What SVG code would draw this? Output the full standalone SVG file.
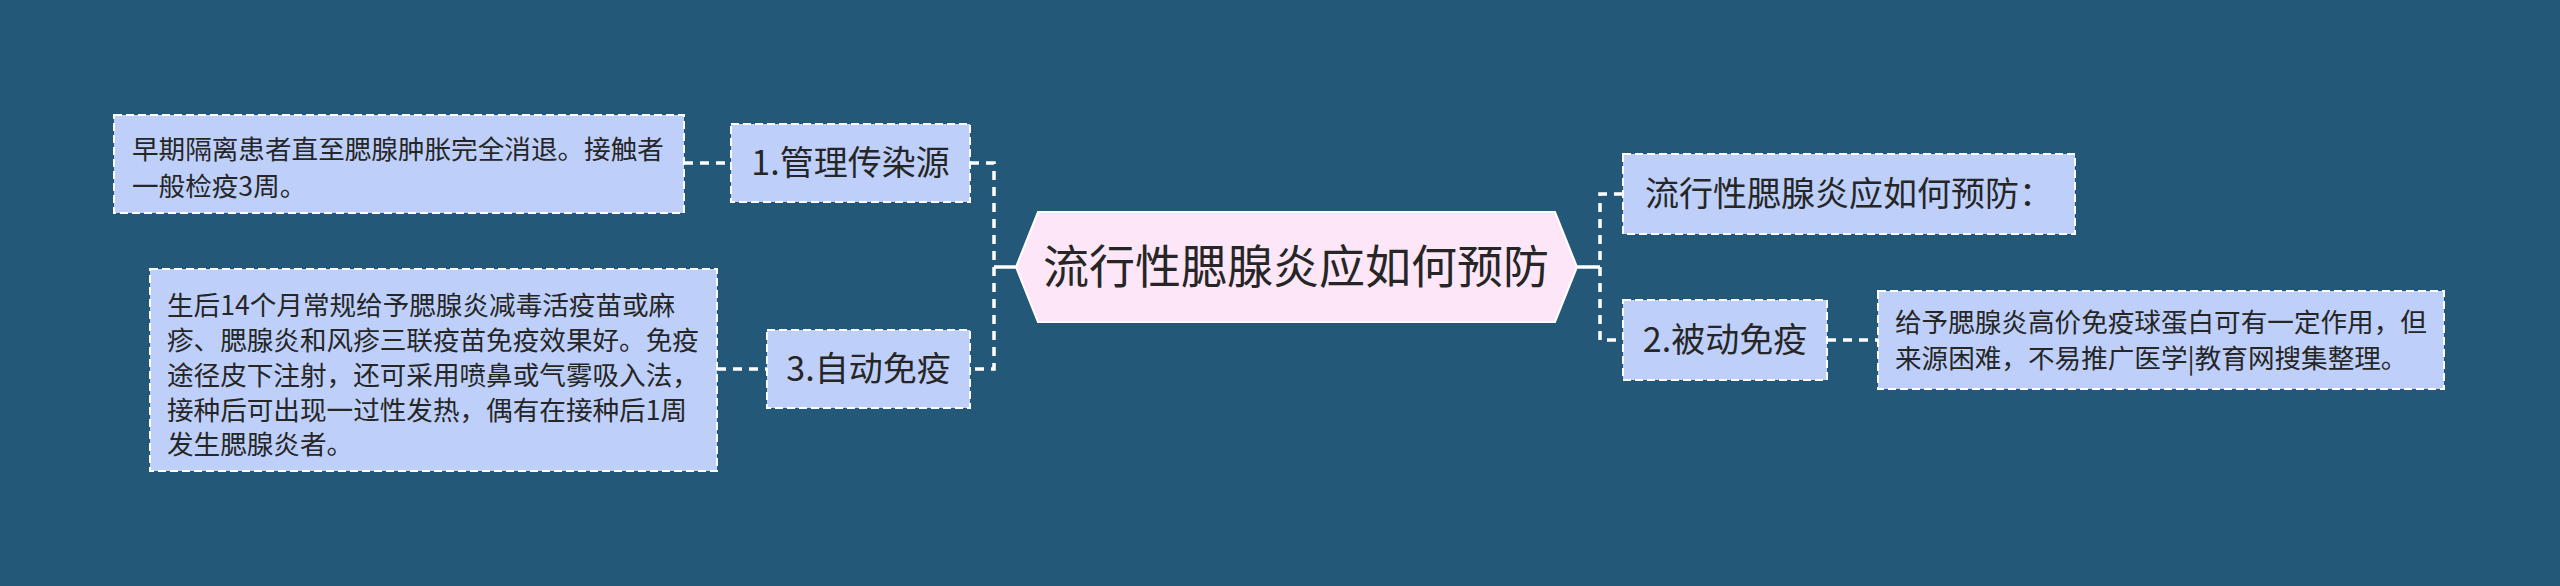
<svg xmlns="http://www.w3.org/2000/svg" width="2560" height="586" viewBox="0 0 2560 586">
<style>
.bg{fill:#235879}
.box{fill:#bed0fa;stroke:#ffffff;stroke-width:2;stroke-dasharray:8 4}
.t{font-family:"Noto Sans CJK SC","Noto Sans",sans-serif;fill:#262626}
.leaf{font-size:26.6px}
.node{font-size:34px;text-anchor:middle}
.center{font-size:46px;text-anchor:middle}
.dash{fill:none;stroke:#ffffff;stroke-width:3.5;stroke-dasharray:9 7}
.solid{fill:none;stroke:#ffffff;stroke-width:3.5}
</style>
<rect class="bg" x="0" y="0" width="2560" height="586"/>
<g id="connectors">
<path class="dash" d="M684 163 H731"/>
<path class="dash" d="M970 163 H994 V369 H970"/>
<path class="dash" d="M717 369 H767"/>
<path class="solid" d="M994 267 H1017"/>
<path class="solid" d="M1577 267 H1600"/>
<path class="dash" d="M1623 194 H1600 V340 H1623"/>
<path class="dash" d="M1827 340 H1878"/>
</g>
<g id="center">
<polygon points="1016,267 1038,212 1555,212 1577,267 1555,322 1038,322" fill="#fde6f7" stroke="#ffffff" stroke-width="2"/>
<text class="t center" x="1296" y="283">流行性腮腺炎应如何预防</text>
</g>
<g id="n1">
<rect class="box" x="731" y="124" width="239" height="78"/>
<text class="t node" x="850.5" y="175">1.管理传染源</text>
</g>
<g id="leaf1">
<rect class="box" x="114" y="115" width="570" height="98"/>
<text class="t leaf" x="132" y="159">早期隔离患者直至腮腺肿胀完全消退。接触者</text>
<text class="t leaf" x="132" y="196">一般检疫3周。</text>
</g>
<g id="n3">
<rect class="box" x="767" y="330" width="203" height="78"/>
<text class="t node" x="868.5" y="381">3.自动免疫</text>
</g>
<g id="leaf3">
<rect class="box" x="150" y="269" width="567" height="202"/>
<text class="t leaf" x="167" y="315">生后14个月常规给予腮腺炎减毒活疫苗或麻</text>
<text class="t leaf" x="167" y="350">疹、腮腺炎和风疹三联疫苗免疫效果好。免疫</text>
<text class="t leaf" x="167" y="385">途径皮下注射，还可采用喷鼻或气雾吸入法，</text>
<text class="t leaf" x="167" y="420">接种后可出现一过性发热，偶有在接种后1周</text>
<text class="t leaf" x="167" y="454">发生腮腺炎者。</text>
</g>
<g id="r1">
<rect class="box" x="1623" y="154" width="452" height="80"/>
<text class="t node" x="1849" y="206">流行性腮腺炎应如何预防：</text>
</g>
<g id="r2">
<rect class="box" x="1623" y="300" width="204" height="80"/>
<text class="t node" x="1725" y="352">2.被动免疫</text>
</g>
<g id="leafr2">
<rect class="box" x="1878" y="291" width="566" height="98"/>
<text class="t leaf" x="1895" y="332">给予腮腺炎高价免疫球蛋白可有一定作用，但</text>
<text class="t leaf" x="1895" y="368">来源困难，不易推广医学|教育网搜集整理。</text>
</g>
</svg>
